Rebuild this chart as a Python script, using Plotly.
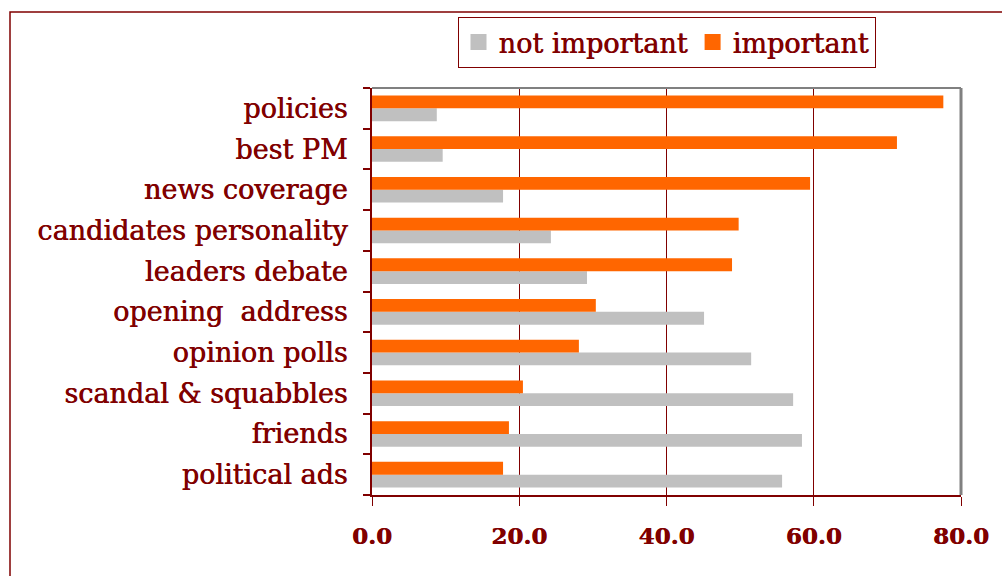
import plotly.graph_objects as go

# Survey: how important each factor was in deciding the vote (%)
categories = [
    "policies", "best PM", "news coverage", "candidates personality",
    "leaders debate", "opening  address", "opinion polls",
    "scandal &amp; squabbles", "friends", "political ads",
]
not_important = [8.8, 9.6, 17.8, 24.3, 29.2, 45.1, 51.5, 57.2, 58.4, 55.7]
important = [77.6, 71.3, 59.5, 49.8, 48.9, 30.4, 28.1, 20.5, 18.6, 17.8]
x_ticks = [0, 20, 40, 60, 80]

GREY = "#C0C0C0"
ORANGE = "#FF6600"
DARK_RED = "#800000"
FONT = "DejaVu Serif"
SHADOW = "0.6px 0 0 #800000"

W, H = 1002, 576
L, R, T, B = 372, 41, 88, 81
pw, ph = W - L - R, H - T - B


def px_x(p):
    return (p - L) / pw


def px_y(p):
    return (H - B - p) / ph


def text_font(size, weight="normal"):
    return dict(family=FONT, size=size, color=DARK_RED, shadow=SHADOW,
                weight=weight)


fig = go.Figure()
fig.add_trace(go.Bar(
    y=categories, x=not_important, orientation="h", name="not important",
    marker=dict(color=GREY, line=dict(width=0)), showlegend=False,
))
fig.add_trace(go.Bar(
    y=categories, x=important, orientation="h", name="important",
    marker=dict(color=ORANGE, line=dict(width=0)), showlegend=False,
))
# legend keys: square swatches
for name, color in [("not important", GREY), ("important", ORANGE)]:
    fig.add_trace(go.Scatter(
        x=[None], y=[None], mode="markers", name=name,
        marker=dict(symbol="square", size=16, color=color),
    ))

fig.update_layout(
    width=W, height=H,
    margin=dict(l=L, r=R, t=T, b=B),
    paper_bgcolor="white", plot_bgcolor="white",
    barmode="group", bargap=0.37, bargroupgap=0,
    font=text_font(27),
    showlegend=True,
    legend=dict(
        orientation="h", x=0.5, xanchor="center", y=px_y(17), yanchor="top",
        bordercolor=DARK_RED, borderwidth=1, bgcolor="white",
        font=text_font(27),
        itemsizing="trace", itemwidth=30,
    ),
    xaxis=dict(
        range=[0, 80], tickvals=x_ticks, tickformat=".1f",
        showgrid=True, gridcolor=DARK_RED, gridwidth=1,
        showline=True, linecolor=DARK_RED, linewidth=2,
        ticks="outside", ticklen=9, tickcolor=DARK_RED, tickwidth=1,
        ticklabelstandoff=10, zeroline=False,
        tickfont=text_font(23, "bold"),
    ),
    yaxis=dict(
        categoryorder="array", categoryarray=categories[::-1],
        showline=True, linecolor=DARK_RED, linewidth=2,
        ticks="outside", ticklen=7, tickcolor=DARK_RED, tickwidth=2,
        tickson="boundaries", showgrid=False, zeroline=False,
        ticklabelstandoff=17,
        tickfont=text_font(27),
    ),
    shapes=[
        # plot frame: top and right edges
        dict(type="line", xref="paper", yref="paper", x0=0, x1=1, y0=1, y1=1,
             line=dict(color="#808080", width=2), layer="above"),
        dict(type="line", xref="paper", yref="paper", x0=1, x1=1, y0=0, y1=1,
             line=dict(color="#808080", width=3), layer="above"),
        # outer chart border
        dict(type="rect", xref="paper", yref="paper",
             x0=px_x(10), x1=px_x(1010), y0=px_y(584), y1=px_y(12),
             line=dict(color=DARK_RED, width=1.5), layer="below"),
    ],
)

fig.write_html("out.html")
